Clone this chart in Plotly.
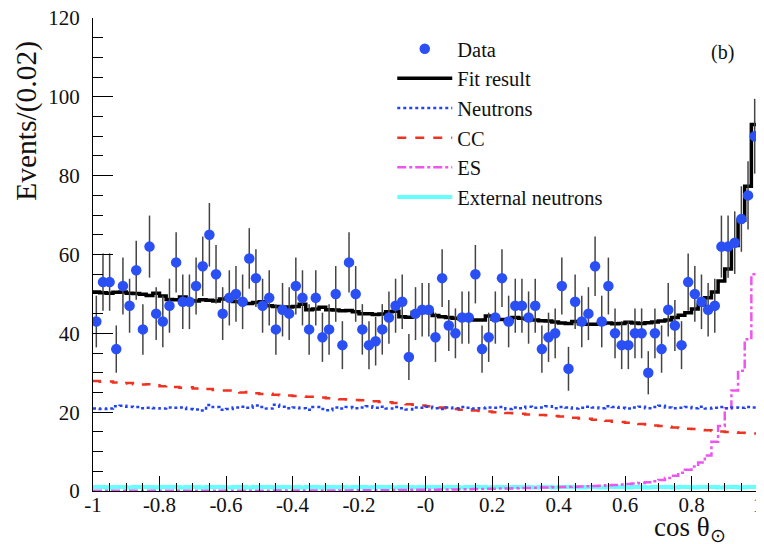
import numpy as np
import plotly.graph_objects as go

# ---------------- data ----------------
x_min, x_max, n_bins = -1.0, 1.0, 100

data_counts = [
    43, 53, 53, 36, 52, 47, 56, 41, 62, 45,
    43, 47, 58, 48, 48, 52, 57, 65, 55, 45,
    49, 50, 48, 59, 54, 47, 49, 41, 46, 45,
    52, 49, 41, 49, 39, 41, 50, 37, 58, 50,
    41, 37, 38, 41, 44, 47, 48, 34, 45, 46,
    46, 39, 54, 42, 40, 44, 44, 55, 36, 39,
    44, 54, 43, 47, 47, 44, 47, 36, 39, 40,
    52, 31, 48, 43, 45, 57, 43, 52, 40, 37,
    37, 40, 40, 30, 40, 36, 46, 42, 37, 53,
    50, 48, 46, 47, 62, 62, 63, 69, 75, 90,
]

fit_result = [
    50.5, 50.3, 50.2, 50.4, 50.5, 50.2, 50.1, 49.9, 49.6, 50.2,
    49.5, 48.6, 48.5, 49.2, 48.3, 48.2, 48.5, 48.4, 48.2, 48.7,
    49.0, 48.1, 47.9, 47.6, 47.8, 48.0, 47.0, 46.8, 46.5, 46.7,
    46.8, 47.4, 46.0, 46.2, 46.6, 46.0, 45.9, 45.7, 45.8, 45.5,
    45.0, 45.0, 44.8, 44.9, 45.5, 45.6, 44.2, 44.1, 45.3, 45.4,
    45.3, 44.5, 44.2, 44.0, 43.8, 43.7, 43.8, 43.4, 43.4, 44.4,
    43.6, 43.5, 43.1, 44.0, 43.8, 43.6, 43.4, 43.2, 43.1, 42.9,
    42.6, 42.5, 43.0, 42.4, 42.3, 42.3, 42.5, 42.6, 42.4, 42.5,
    42.8, 42.6, 42.5, 42.7, 42.9, 43.1, 43.4, 44.0, 44.6, 45.2,
    46.2, 47.2, 49.0, 50.5, 53.3, 56.3, 62.3, 68.7, 77.3, 93.0,
]

neutrons = [
    20.9, 20.8, 20.9, 21.5, 21.6, 21.4, 21.3, 21.0, 21.1, 21.0,
    20.9, 21.2, 21.1, 21.2, 20.8, 20.7, 20.4, 21.8, 21.3, 20.6,
    20.8, 21.2, 21.4, 21.1, 21.7, 21.3, 20.9, 21.9, 21.4, 21.0,
    21.2, 21.0, 20.6, 21.3, 20.8, 20.5, 21.2, 20.9, 21.3, 21.0,
    21.2, 21.5, 21.1, 21.4, 20.9, 21.3, 21.0, 20.7, 21.2, 21.1,
    21.4, 21.0, 20.8, 21.2, 21.0, 21.3, 21.1, 20.9, 21.0, 21.2,
    21.1, 21.3, 20.8, 21.2, 21.0, 21.4, 21.1, 21.2, 21.5, 21.0,
    21.3, 21.2, 20.9, 21.1, 21.4, 21.2, 21.0, 21.5, 21.3, 21.1,
    20.9, 21.2, 21.4, 21.0, 21.3, 21.6, 21.2, 21.0, 21.1, 21.3,
    21.0, 21.4, 20.9, 21.1, 21.3, 21.0, 21.2, 21.1, 21.3, 21.2,
]

cc = [
    27.9, 27.7, 27.8, 27.5, 27.3, 27.4, 27.1, 27.0, 27.1, 26.8,
    26.6, 26.7, 26.4, 26.2, 26.3, 26.0, 25.8, 25.9, 25.6, 25.5,
    25.5, 25.2, 25.0, 25.1, 24.8, 24.6, 24.7, 24.4, 24.3, 24.2,
    24.1, 24.0, 23.9, 23.9, 23.7, 23.5, 23.5, 23.3, 23.2, 23.1,
    23.0, 22.8, 22.8, 22.6, 22.5, 22.3, 22.3, 22.0, 21.9, 21.7,
    21.5, 21.4, 21.2, 21.0, 20.8, 20.6, 20.6, 20.4, 20.3, 20.2,
    20.0, 20.0, 19.8, 19.7, 19.6, 19.4, 19.4, 19.3, 19.2, 19.0,
    18.9, 18.8, 18.6, 18.4, 18.3, 18.1, 17.9, 17.8, 17.6, 17.5,
    17.3, 17.2, 17.0, 16.9, 16.6, 16.5, 16.3, 16.1, 16.0, 15.8,
    15.7, 15.5, 15.4, 15.2, 15.1, 15.0, 14.9, 14.8, 14.7, 14.6,
]

es = [
    0.05, 0.05, 0.05, 0.05, 0.05, 0.05, 0.05, 0.05, 0.05, 0.05,
    0.05, 0.05, 0.05, 0.05, 0.05, 0.06, 0.06, 0.06, 0.06, 0.07,
    0.07, 0.07, 0.08, 0.08, 0.08, 0.09, 0.09, 0.10, 0.10, 0.10,
    0.11, 0.11, 0.12, 0.12, 0.13, 0.13, 0.14, 0.15, 0.15, 0.16,
    0.17, 0.18, 0.19, 0.20, 0.22, 0.23, 0.25, 0.27, 0.29, 0.30,
    0.32, 0.34, 0.36, 0.38, 0.40, 0.43, 0.46, 0.49, 0.52, 0.55,
    0.58, 0.62, 0.66, 0.70, 0.74, 0.78, 0.82, 0.86, 0.90, 0.95,
    1.0, 1.05, 1.1, 1.15, 1.2, 1.28, 1.35, 1.45, 1.55, 1.65,
    1.75, 1.9, 2.05, 2.2, 2.5, 2.8, 3.3, 3.9, 4.6, 5.4,
    6.2, 7.2, 9.0, 12.5, 16.5, 21.0, 25.5, 30.5, 38.5, 55.0,
]

ext_neutrons = [
    1.0, 1.0, 0.9, 1.0, 1.0, 0.9, 1.0, 1.0, 1.0, 0.9,
    1.0, 1.0, 1.0, 0.9, 1.0, 1.0, 0.9, 1.0, 1.0, 1.0,
    0.9, 1.0, 1.0, 0.9, 1.0, 1.0, 1.0, 0.9, 1.0, 1.0,
    1.0, 0.9, 1.0, 1.0, 0.9, 1.0, 1.0, 1.0, 0.9, 1.0,
    1.0, 0.9, 1.0, 1.0, 1.0, 0.9, 1.0, 1.0, 0.9, 1.0,
    1.0, 1.0, 0.9, 1.0, 1.0, 0.9, 1.0, 1.0, 1.0, 0.9,
    1.0, 1.0, 0.9, 1.0, 1.0, 1.0, 0.9, 1.0, 1.0, 0.9,
    1.0, 1.0, 1.0, 0.9, 1.0, 1.0, 0.9, 1.0, 1.0, 1.0,
    0.9, 1.0, 1.0, 0.9, 1.0, 1.0, 1.0, 0.9, 1.0, 1.0,
    0.9, 1.0, 1.0, 1.0, 0.9, 1.0, 1.0, 0.9, 1.0, 1.0,
]

x_tick_vals = [-1, -0.8, -0.6, -0.4, -0.2, 0, 0.2, 0.4, 0.6, 0.8, 1]
x_tick_text = ["-1", "-0.8", "-0.6", "-0.4", "-0.2", "-0", "0.2", "0.4", "0.6", "0.8", "1"]
y_tick_vals = [0, 20, 40, 60, 80, 100, 120]

# ---------------- geometry helpers ----------------
edges = np.linspace(x_min, x_max, n_bins + 1)
centers = 0.5 * (edges[:-1] + edges[1:])


def step(values):
    v = list(values)
    return edges, v + [v[-1]]


FONT = "Liberation Serif, Times New Roman, serif"

fig = go.Figure()

# components
xs, ys = step(ext_neutrons)
fig.add_trace(go.Scatter(x=xs, y=ys, mode="lines", line_shape="hv",
                         line=dict(color="#66ffff", width=4),
                         name="External neutrons", legendrank=6))
xs, ys = step(es)
fig.add_trace(go.Scatter(x=xs, y=ys, mode="lines", line_shape="hv",
                         line=dict(color="#ee55ee", width=2.5, dash="dashdot"),
                         name="ES", legendrank=5))
xs, ys = step(cc)
fig.add_trace(go.Scatter(x=xs, y=ys, mode="lines", line_shape="hv",
                         line=dict(color="#ee3322", width=2.5, dash="dash"),
                         name="CC", legendrank=4))
xs, ys = step(neutrons)
fig.add_trace(go.Scatter(x=xs, y=ys, mode="lines", line_shape="hv",
                         line=dict(color="#2244ee", width=2.5, dash="dot"),
                         name="Neutrons", legendrank=3))
xs, ys = step(fit_result)
fig.add_trace(go.Scatter(x=xs, y=ys, mode="lines", line_shape="hv",
                         line=dict(color="black", width=3.5),
                         name="Fit result", legendrank=2))

# data
fig.add_trace(go.Scatter(
    x=centers, y=data_counts, mode="markers",
    marker=dict(color="#2a50f5", size=10.5),
    error_y=dict(type="data", array=np.sqrt(data_counts), color="#444444",
                 thickness=1.5, width=0),
    name="Data", legendrank=1))

# the page body adds an 8 px offset, so the figure is sized to the remaining area
fig.update_layout(
    width=756, height=536,
    margin=dict(l=85, r=6, t=10, b=53, autoexpand=False),
    paper_bgcolor="white", plot_bgcolor="white",
    font=dict(family=FONT, size=21, color="#111111"),
    showlegend=True,
    legend=dict(x=0.45, y=0.977, xanchor="left", yanchor="top",
                bgcolor="rgba(0,0,0,0)", font=dict(family=FONT, size=20.5),
                itemwidth=55, tracegroupgap=0),
    xaxis=dict(range=[x_min, x_max], tickvals=x_tick_vals, ticktext=x_tick_text,
               ticks="inside", ticklen=15, tickwidth=1, tickcolor="black",
               showline=True, linecolor="black", linewidth=1,
               showgrid=False, zeroline=False, automargin=False,
               ticklabelstandoff=-5, ticklabeloverflow="allow",
               tickfont=dict(family=FONT, size=21),
               minor=dict(dtick=0.05, tick0=-1, ticks="inside", ticklen=8,
                          tickcolor="black", showgrid=False)),
    yaxis=dict(range=[0, 120], tickvals=y_tick_vals,
               ticks="inside", ticklen=20, tickwidth=1, tickcolor="black",
               showline=True, linecolor="black", linewidth=1, mirror=True,
               showgrid=False, zeroline=False, automargin=False,
               ticklabelstandoff=8, ticklabeloverflow="allow",
               tickfont=dict(family=FONT, size=21),
               minor=dict(dtick=5, tick0=0, ticks="inside", ticklen=10,
                          tickcolor="black", showgrid=False)),
)

fig.add_annotation(text="Events/(0.02)", xref="paper", yref="paper",
                   x=-0.1, y=0.955, xanchor="center", yanchor="top",
                   textangle=-90, showarrow=False,
                   font=dict(family=FONT, size=29.5, color="#111111"))
fig.add_annotation(text="cos θ<sub>⊙</sub>", xref="paper", yref="paper",
                   x=0.955, y=-0.121, xanchor="right", yanchor="bottom",
                   showarrow=False,
                   font=dict(family=FONT, size=27, color="#111111"))
fig.add_annotation(text="(b)", xref="paper", yref="paper",
                   x=0.946, y=0.928, xanchor="center", yanchor="middle",
                   showarrow=False,
                   font=dict(family=FONT, size=20, color="#111111"))

fig.write_html("out.html")
